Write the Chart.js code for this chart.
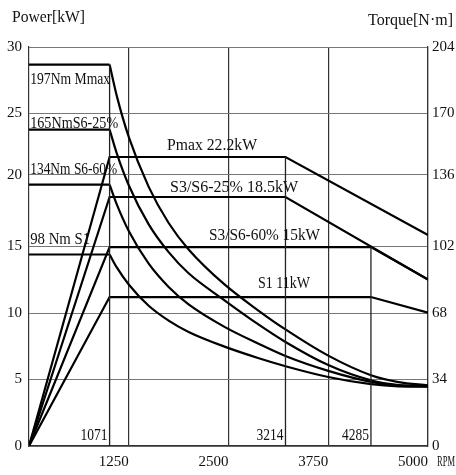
<!DOCTYPE html>
<html><head><meta charset="utf-8">
<script src="https://cdn.jsdelivr.net/npm/chart.js@4"></script>
<style>html,body{margin:0;padding:0;background:#fff}canvas{display:block}</style>
</head><body>
<canvas id="c" width="456" height="475"></canvas>
<script>
// ---- axes ----
const rpmTicks = [1250, 2500, 3750, 5000];
const rpmTickLabels = ['1250', '2500', '3750', '5000'];
const powerTickPos = [0, 5, 10, 15, 20.4, 25, 30];          // where the power grid lines sit (kW)
const powerTickLabels = ['0', '5', '10', '15', '20', '25', '30'];
const torqueTickLabels = ['0', '34', '68', '102', '136', '170', '204'];

// ---- speed markers (vertical lines) ----
const markRpm = [1010, 3214, 4285];        // drawn position of each marker
const markLabels = ['1071', '3214', '4285'];
const markTopKw = [28.62, 21.73, 14.96];   // level where each marker line stops

// ---- power curves (kW) ----
const pmaxRpm = [0, 1010, 3214, 5000];
const pmaxKw  = [0, 21.73, 21.73, 15.86];
const s25Rpm  = [0, 1010, 3214, 5000];
const s25Kw   = [0, 18.72, 18.72, 12.51];
const s60Rpm  = [0, 1010, 4285, 5000];
const s60Kw   = [0, 14.96, 14.96, 12.51];
const s1Rpm   = [0, 1010, 4285, 5000];
const s1Kw    = [0, 11.2, 11.2, 10.03];

// ---- torque curves (N·m) ----
const flatRpm   = [0, 1010];
const torqueRpm = [1010, 1100, 1250, 1500, 1750, 2000, 2450, 2870, 3214, 3750, 4285, 4630, 5000];
const mmaxNm = [195, 179, 158, 132.5, 114, 100.5, 82.6, 69.4, 59.6, 46.2, 36.2, 32.7, 31];
const s625Nm = [161.8, 149.6, 133.3, 113.3, 99.1, 88.3, 74.5, 62.3, 53.2, 41.4, 33.6, 31.2, 30.6];
const s660Nm = [133.6, 123.5, 109.9, 93.2, 81.3, 72.4, 60.9, 52.4, 46.0, 38.4, 32.8, 31.0, 30.5];
const s1Nm   = [97.9, 91.3, 82.6, 71.7, 64.1, 58.3, 50.8, 45.0, 40.8, 35.3, 31.6, 30.5, 30.3];

// ---- curve labels ----
const curveLabels = ['197Nm Mmax', '165NmS6-25%', '134Nm S6-60%', '98 Nm S1',
                     'Pmax 22.2kW', 'S3/S6-25% 18.5kW', 'S3/S6-60% 15kW', 'S1 11kW'];

const pts = (xs, ys) => xs.map((x, i) => ({x: x, y: ys[i]}));
const FONT = '"Liberation Serif", "DejaVu Serif", serif';

function powerLine(xs, ys) {
  return {data: pts(xs, ys), yAxisID: 'y', borderColor: '#000', borderWidth: 2.2, tension: 0, pointRadius: 0};
}
function torqueLine(xs, ys) {
  return {data: pts(xs, ys), yAxisID: 'yT', borderColor: '#000', borderWidth: 2.2,
          cubicInterpolationMode: 'monotone', pointRadius: 0};
}
function flatLine(v) {
  return {data: pts(flatRpm, [v, v]), yAxisID: 'yT', borderColor: '#000', borderWidth: 2.2, tension: 0, pointRadius: 0};
}
function markerLine(i) {
  return {data: pts([markRpm[i], markRpm[i]], [0, markTopKw[i]]), yAxisID: 'y',
          borderColor: '#222', borderWidth: 1.3, tension: 0, pointRadius: 0};
}

const datasets = [
  markerLine(0), markerLine(1), markerLine(2),
  powerLine(pmaxRpm, pmaxKw), powerLine(s25Rpm, s25Kw), powerLine(s60Rpm, s60Kw), powerLine(s1Rpm, s1Kw),
  flatLine(mmaxNm[0]), flatLine(s625Nm[0]), flatLine(s660Nm[0]), flatLine(s1Nm[0]),
  torqueLine(torqueRpm, mmaxNm), torqueLine(torqueRpm, s625Nm),
  torqueLine(torqueRpm, s660Nm), torqueLine(torqueRpm, s1Nm)
];

// label placement: [label index, rpm anchor, kW level, align, max width px]
const labelPlace = [
  [0, 15, 27.5, 'left', 80], [1, 15, 24.25, 'left', 88], [2, 15, 20.8, 'left', 87], [3, 15, 15.5, 'left', 60],
  [4, 1729, 22.6, 'left', 90], [5, 1767, 19.38, 'left', 128], [6, 2256, 15.84, 'left', 111], [7, 2870, 12.16, 'left', 52]
];

const textPlugin = {
  id: 'texts',
  afterDatasetsDraw(chart) {
    const ctx = chart.ctx, xs = chart.scales.x, ys = chart.scales.y;
    ctx.save();
    ctx.fillStyle = '#111';
    ctx.font = '16px ' + FONT;
    ctx.textBaseline = 'middle';
    labelPlace.forEach(p => {
      ctx.textAlign = p[3];
      ctx.fillText(curveLabels[p[0]], xs.getPixelForValue(p[1]), ys.getPixelForValue(p[2]), p[4]);
    });
    ctx.textAlign = 'right';
    markRpm.forEach((r, i) => {
      ctx.fillText(markLabels[i], xs.getPixelForValue(r) - 2, ys.getPixelForValue(0.8), 27);
    });
    ctx.textAlign = 'left';
    ctx.font = '17px ' + FONT;
    ctx.fillText('Power[kW]', 12, 18, 73);
    ctx.fillText('Torque[N\u00b7m]', 368, 21, 85);
    ctx.font = '15px ' + FONT;
    ctx.fillText('RPM', 437, 462, 18);
    ctx.restore();
  }
};

new Chart(document.getElementById('c'), {
  type: 'line',
  data: {datasets: datasets},
  options: {
    responsive: false,
    animation: false,
    events: [],
    layout: {padding: {top: 47}},
    plugins: {legend: {display: false}, tooltip: {enabled: false}},
    scales: {
      x: {
        type: 'linear', min: 0, max: 5000,
        afterBuildTicks: s => { s.ticks = rpmTicks.map(v => ({value: v})); },
        afterFit: s => { s.height = 29; },
        ticks: {callback: (v, i) => rpmTickLabels[i], align: 'end', padding: 7, maxRotation: 0,
                autoSkip: false, color: '#111', font: {family: FONT, size: 15}},
        grid: {color: '#333', lineWidth: 1.2, drawTicks: false},
        border: {display: true, color: '#333', width: 1.2}
      },
      y: {
        type: 'linear', position: 'left', min: 0, max: 30,
        afterBuildTicks: s => { s.ticks = powerTickPos.map(v => ({value: v})); },
        afterFit: s => { s.width = 29; },
        ticks: {callback: (v, i) => powerTickLabels[i], padding: 7, autoSkip: false,
                color: '#111', font: {family: FONT, size: 15}},
        grid: {color: '#777', lineWidth: 1, drawTicks: false},
        border: {display: true, color: '#333', width: 1.2}
      },
      yR: {
        type: 'linear', position: 'right', min: 0, max: 30,
        afterBuildTicks: s => { s.ticks = powerTickPos.map(v => ({value: v})); },
        afterFit: s => { s.width = 28; },
        ticks: {callback: (v, i) => torqueTickLabels[i], padding: 4, autoSkip: false,
                color: '#111', font: {family: FONT, size: 15}},
        grid: {display: false, drawTicks: false},
        border: {display: true, color: '#333', width: 1.2}
      },
      yT: {type: 'linear', display: false, min: 0, max: 204}
    }
  },
  plugins: [textPlugin]
});
</script>
</body></html>
